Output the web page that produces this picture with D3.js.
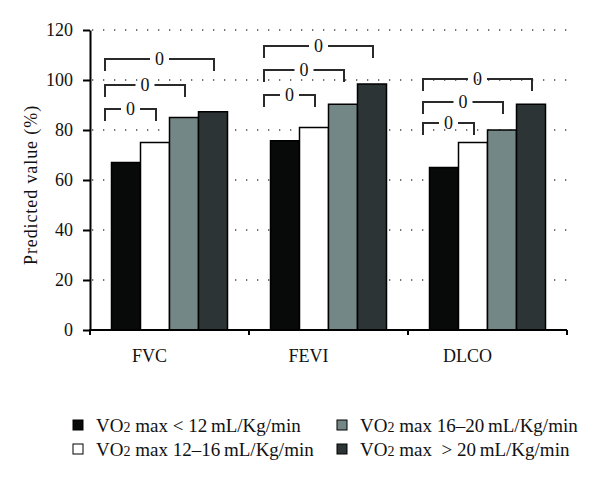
<!DOCTYPE html>
<html>
<head>
<meta charset="utf-8">
<script src="https://cdn.jsdelivr.net/npm/d3@7"></script>
<style>
  body { margin: 0; background: #fff; }
  text { font-family: "Liberation Serif", "DejaVu Serif", serif; fill: #111; }
</style>
</head>
<body>
<script>
// data
var categories = ["FVC", "FEVI", "DLCO"];
var groups = ["lt12", "12to16", "16to20", "gt20"];
var groupLabels = [
  ["VO", "2", " max < 12\u2009mL/Kg/min"],
  ["VO", "2", " max 12\u201316\u2009mL/Kg/min"],
  ["VO", "2", " max 16\u201320\u2009mL/Kg/min"],
  ["VO", "2", " max\u00a0\u00a0> 20\u2009mL/Kg/min"]
];
var fvcValues  = [67, 75, 85, 87.3];
var feviValues = [75.7, 81, 90.3, 98.4];
var dlcoValues = [65, 75, 80, 90.3];
var yTicks = [0, 20, 40, 60, 80, 100, 120];
// comparison brackets: height (in % units) for black vs white / gray / dark
var fvcBrackets  = [88.4, 98, 108.4];
var feviBrackets = [94, 104, 113.6];
var dlcoBrackets = [82.8, 91.2, 100.4];
var bracketLabel = "0";

var colors = ["#070a09", "#ffffff", "#748787", "#2d3435"];
var values = [fvcValues, feviValues, dlcoValues];
var brackets = [fvcBrackets, feviBrackets, dlcoBrackets];

var W = 600, H = 482;
var mLeft = 90, mRight = 567, mTop = 30, mBottom = 330;

var svg = d3.select("body").append("svg")
    .attr("width", W)
    .attr("height", H);

var x = d3.scaleBand().domain(categories).range([mLeft, mRight]);
var xIn = d3.scaleBand().domain(groups)
    .range([21.5, x.bandwidth() - 21.5]);
var y = d3.scaleLinear().domain([0, 120]).range([mBottom, mTop]);

// dotted grid
svg.selectAll("line.grid")
    .data(yTicks.filter(function(d) { return d > 0; }))
  .enter().append("line")
    .attr("class", "grid")
    .attr("x1", mLeft + 2)
    .attr("x2", mRight)
    .attr("y1", function(d) { return y(d); })
    .attr("y2", function(d) { return y(d); })
    .style("stroke", "#444")
    .style("stroke-width", 1.3)
    .style("stroke-dasharray", "1.3,9.7");

// bars
var cat = svg.selectAll("g.cat")
    .data(categories)
  .enter().append("g")
    .attr("class", "cat")
    .attr("transform", function(d) { return "translate(" + x(d) + ",0)"; });

cat.selectAll("rect")
    .data(function(d, i) { return values[i]; })
  .enter().append("rect")
    .attr("x", function(d, i) { return xIn(groups[i]); })
    .attr("y", function(d) { return y(d); })
    .attr("width", xIn.bandwidth())
    .attr("height", function(d) { return y(0) - y(d); })
    .style("fill", function(d, i) { return colors[i]; })
    .style("stroke", "#000")
    .style("stroke-width", 1.5);

// brackets
cat.each(function(c, ci) {
  var g = d3.select(this);
  var x0 = xIn(groups[0]) + xIn.bandwidth() / 2 - 21;
  brackets[ci].forEach(function(b, k) {
    var x1 = xIn(groups[k + 1]) + xIn.bandwidth() / 2 + 1;
    var yy = y(b), mid = (x0 + x1) / 2, gap = 9.5, leg = 12;
    g.append("path")
      .attr("d", "M" + x0 + "," + (yy + leg) + "V" + yy + "H" + (mid - gap) +
                 "M" + (mid + gap) + "," + yy + "H" + x1 + "V" + (yy + leg))
      .style("fill", "none")
      .style("stroke", "#2a2a2a")
      .style("stroke-width", 2);
    g.append("text")
      .attr("x", mid)
      .attr("y", yy)
      .attr("dy", "0.35em")
      .attr("text-anchor", "middle")
      .style("font-size", "18px")
      .text(bracketLabel);
  });
});

// y axis
var yAxis = svg.append("g")
    .attr("transform", "translate(" + mLeft + ",0)")
    .call(d3.axisLeft(y).tickValues(yTicks).tickSize(7).tickSizeOuter(0).tickPadding(10));
yAxis.select(".domain").style("stroke", "#000").style("stroke-width", 2);
yAxis.selectAll(".tick line").style("stroke", "#000").style("stroke-width", 2);
yAxis.selectAll(".tick text")
    .style("font-family", "'Liberation Serif', serif")
    .style("font-size", "18px")
    .style("fill", "#111");

// x axis: line with ticks at band edges
svg.append("line")
    .attr("x1", mLeft - 1).attr("x2", mRight)
    .attr("y1", mBottom).attr("y2", mBottom)
    .style("stroke", "#000").style("stroke-width", 2);
svg.selectAll("line.xtick")
    .data(categories.map(function(d) { return x(d); }).concat([mRight]))
  .enter().append("line")
    .attr("class", "xtick")
    .attr("x1", function(d) { return d; }).attr("x2", function(d) { return d; })
    .attr("y1", mBottom).attr("y2", mBottom + 5)
    .style("stroke", "#000").style("stroke-width", 2);
svg.selectAll("text.xlab")
    .data(categories)
  .enter().append("text")
    .attr("class", "xlab")
    .attr("x", function(d) { return x(d) + x.bandwidth() / 2 - 20; })
    .attr("y", mBottom + 32)
    .attr("text-anchor", "middle")
    .style("font-size", "18px")
    .text(String);

// y title
svg.append("text")
    .attr("transform", "translate(37,185) rotate(-90)")
    .attr("text-anchor", "middle")
    .style("font-size", "18px")
    .style("letter-spacing", "0.9px")
    .text("Predicted value (%)");

// legend
var leg = svg.selectAll("g.leg")
    .data(groups)
  .enter().append("g")
    .attr("class", "leg")
    .attr("transform", function(d, i) {
      var col = i < 2 ? 0 : 1, row = i % 2;
      return "translate(" + (col ? 337 : 73) + "," + (425 + row * 24) + ")";
    });
leg.append("rect")
    .attr("x", 0).attr("y", -5)
    .attr("width", 10).attr("height", 10)
    .style("fill", function(d, i) { return colors[i]; })
    .style("stroke", "#000").style("stroke-width", 1);
var lt = leg.append("text")
    .attr("x", 23)
    .attr("y", 0)
    .attr("dy", "0.35em")
    .style("font-size", "19px");
lt.append("tspan").text(function(d, i) { return groupLabels[i][0]; });
lt.append("tspan").style("font-size", "14px").text(function(d, i) { return groupLabels[i][1]; });
lt.append("tspan").text(function(d, i) { return groupLabels[i][2]; });
</script>
</body>
</html>
